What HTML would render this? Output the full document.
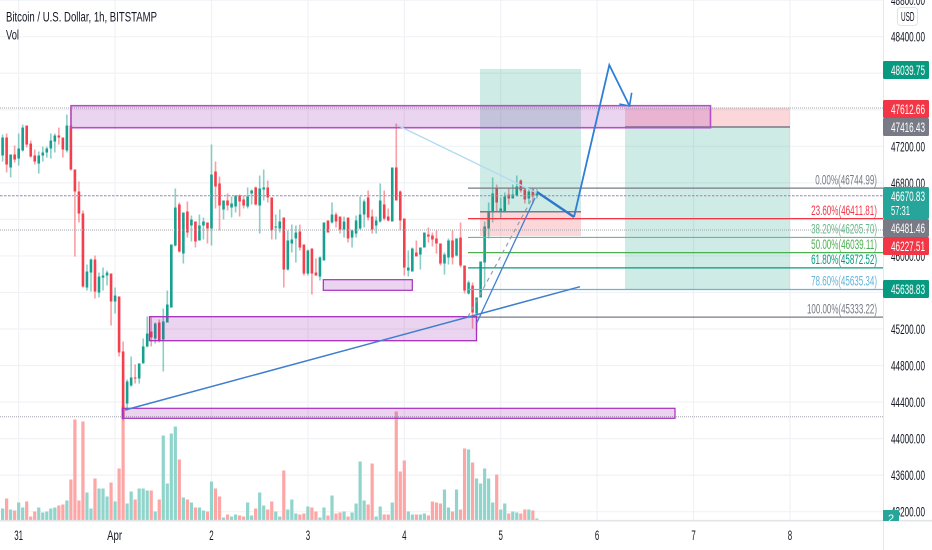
<!DOCTYPE html>
<html>
<head>
<meta charset="utf-8">
<title>Bitcoin / U.S. Dollar chart</title>
<style>
html,body{margin:0;padding:0;background:#fff;width:932px;height:550px;overflow:hidden}
svg{display:block;font-family:"Liberation Sans",sans-serif}
</style>
</head>
<body>
<svg id="chart" xmlns="http://www.w3.org/2000/svg" width="932" height="550" viewBox="0 0 932 550">
  <g id="grid"></g>
  <g id="volumes"></g>
  <g id="candles"></g>

  <g>
    <rect x="480" y="69" width="101" height="143" fill="#089981" fill-opacity="0.2"/>
    <rect x="480" y="212" width="101" height="24" fill="#f23645" fill-opacity="0.2"/>
    <line x1="480" y1="211.7" x2="581" y2="211.7" stroke="#787b86" stroke-width="1.5"/>
  </g>
  <g>
    <rect x="625" y="107.5" width="165" height="19.5" fill="#f23645" fill-opacity="0.2"/>
    <rect x="625" y="127" width="165" height="162" fill="#089981" fill-opacity="0.2"/>
    <line x1="625" y1="127" x2="790" y2="127" stroke="#787b86" stroke-width="1.5"/>
  </g>

  <g id="hlines">
    <line x1="0" y1="108" x2="883" y2="108" stroke="#a3a6ae" stroke-width="1" stroke-dasharray="1 1"/>
    <line x1="0" y1="230" x2="883" y2="230" stroke="#a3a6ae" stroke-width="1" stroke-dasharray="1 1"/>
    <line x1="0" y1="416.7" x2="883" y2="416.7" stroke="#a3a6ae" stroke-width="1" stroke-dasharray="1 1"/>
    <line x1="0" y1="195.7" x2="883" y2="195.7" stroke="#6f92dc" stroke-width="1" stroke-dasharray="2 2"/>
    <line x1="2" y1="195.7" x2="883" y2="195.7" stroke="#f2a8ad" stroke-width="1" stroke-dasharray="1 3"/>
  </g>

  <g id="fib"></g>

  <g>
    <rect x="71" y="105.7" width="639.5" height="22" fill="#9c27b0" fill-opacity="0.2" stroke="#b44fc6" stroke-width="1.6"/>
    <rect x="149.5" y="316.7" width="327" height="24" fill="#9c27b0" fill-opacity="0.2" stroke="#a62fbc" stroke-width="1.3"/>
    <rect x="323.3" y="279.7" width="89" height="10.6" fill="#9c27b0" fill-opacity="0.2" stroke="#a62fbc" stroke-width="1.2"/>
    <rect x="122.3" y="408.3" width="552.7" height="10" fill="#9c27b0" fill-opacity="0.2" stroke="#a62fbc" stroke-width="1.2"/>
  </g>

  <g>
    <line x1="397" y1="125" x2="537" y2="193" stroke="#b3daf3" stroke-width="1.4"/>
    <line x1="468" y1="316.7" x2="538" y2="187.5" stroke="#9a9da6" stroke-width="1.2" stroke-dasharray="4 4"/>
    <line x1="125" y1="410" x2="580" y2="286.7" stroke="#3f7fd0" stroke-width="1.5"/>
    <line x1="476.7" y1="323" x2="535" y2="198" stroke="#3f7fd0" stroke-width="1.3"/>
    <polyline points="537,192 574,217" fill="none" stroke="#2f78c8" stroke-width="2.4"/>
    <polyline points="574,217 609.3,65 629.5,106" fill="none" stroke="#2f7fd4" stroke-width="1.8"/>
    <polyline points="619.3,104 629.5,106 631.7,92.7" fill="none" stroke="#2f7fd4" stroke-width="1.6"/>
  </g>

  <rect x="884" y="0" width="48" height="550" fill="#fff"/>
  <line x1="883.5" y1="0" x2="883.5" y2="550" stroke="#e6e7ea" stroke-width="1"/>
  <rect x="0" y="521.5" width="883" height="29" fill="#fff"/>
  <line x1="0" y1="520.7" x2="932" y2="520.7" stroke="#e3e4e8" stroke-width="1.6"/>
  <g id="priceTicks"></g>
  <g id="timeTicks"></g>

  <g>
    <g>
      <rect x="883" y="61" width="46" height="18" rx="1.5" fill="#089981"/>
      <text x="891" y="75" font-size="14" fill="#fff" textLength="34" lengthAdjust="spacingAndGlyphs">48039.75</text>
    </g>
    <g>
      <rect x="883" y="100" width="46" height="18" rx="1.5" fill="#f23645"/>
      <text x="891" y="114" font-size="14" fill="#fff" textLength="34" lengthAdjust="spacingAndGlyphs">47612.66</text>
    </g>
    <g>
      <rect x="883" y="118" width="46" height="18" rx="1.5" fill="#787b86"/>
      <text x="891" y="132" font-size="14" fill="#fff" textLength="34" lengthAdjust="spacingAndGlyphs">47416.43</text>
    </g>
    <g>
      <rect x="883" y="187" width="46" height="32" rx="1.5" fill="#26a69a"/>
      <text x="891" y="201" font-size="14" fill="#fff" textLength="34" lengthAdjust="spacingAndGlyphs">46670.83</text>
      <text x="891" y="215" font-size="13" fill="#fff" textLength="19" lengthAdjust="spacingAndGlyphs">57:31</text>
    </g>
    <g>
      <rect x="883" y="219" width="46" height="18" rx="1.5" fill="#787b86"/>
      <text x="891" y="233" font-size="14" fill="#fff" textLength="34" lengthAdjust="spacingAndGlyphs">46481.46</text>
    </g>
    <g>
      <rect x="883" y="237" width="46" height="18" rx="1.5" fill="#f23645"/>
      <text x="891" y="251" font-size="14" fill="#fff" textLength="34" lengthAdjust="spacingAndGlyphs">46227.51</text>
    </g>
    <g>
      <rect x="883" y="280" width="46" height="18" rx="1.5" fill="#089981"/>
      <text x="891" y="294" font-size="14" fill="#fff" textLength="34" lengthAdjust="spacingAndGlyphs">45638.83</text>
    </g>
    <g>
      <rect x="883" y="510" width="16" height="11" fill="#26a69a"/>
      <text x="891" y="522" font-size="11" fill="#fff" text-anchor="middle">2</text>
    </g>
  </g>

  <g>
    <rect x="897.5" y="7.5" width="20" height="18" rx="3" fill="#fff" stroke="#e0e3eb"/>
    <text x="901" y="21" font-size="13" fill="#131722" textLength="13.5" lengthAdjust="spacingAndGlyphs">USD</text>
  </g>
  <text x="6" y="21.5" font-size="13.5" fill="#131722" textLength="151" lengthAdjust="spacingAndGlyphs">Bitcoin / U.S. Dollar, 1h, BITSTAMP</text>
  <text x="6" y="39.5" font-size="13.5" fill="#131722" textLength="13" lengthAdjust="spacingAndGlyphs">Vol</text>
</svg>

<script>
// Candle data (USD)
const opens = [47099,47296,46968,47110,47066,47154,47427,47230,47099,47011,47099,47132,47176,47252,47318,47296,47154,47427,46946,46705,46464,45654,45818,45961,45599,45763,45785,45807,45501,45556,44954,44384,44581,44669,44658,44823,45009,45172,45096,45271,45085,45271,45435,46114,46563,46026,46486,46333,46377,46169,46333,46366,46300,46924,46793,46508,46607,46530,46541,46662,46618,46541,46683,46749,46552,46727,46749,46640,46311,46300,46420,45851,46136,46191,46267,46125,45807,46081,45818,45774,45950,46388,46366,46453,46431,46289,46420,46201,46245,46300,46453,46640,46431,46333,46377,46563,46431,46377,46968,46705,46409,45840,45829,46037,46015,46092,46234,46223,46191,46136,45917,45983,46169,46004,46201,45895,45588,45676,45369,45545,45928,46300,46475,46738,46486,46475,46672,46629,46662,46826,46727,46629,46727,46660];
const highs = [47329,47340,47110,47209,47340,47438,47427,47263,47165,47143,47197,47197,47340,47340,47405,47296,47548,47625,46946,46815,46497,45906,45972,46004,45818,45873,45840,45807,45654,45556,45063,44647,44899,44812,44823,45096,45337,45326,45271,45304,45424,45621,46125,46738,46585,46475,46596,46442,46377,46453,46420,46366,47220,47033,46869,46607,46684,46651,46662,46673,46662,46749,46727,46760,46880,46946,46826,46640,46453,46508,46420,46278,46344,46333,46344,46125,46070,46081,45972,45994,46366,46388,46585,46475,46431,46431,46420,46289,46442,46651,46618,46716,46508,46431,46793,46716,46519,46968,47449,46716,46409,46059,46092,46169,46092,46256,46311,46256,46278,46136,46037,46191,46278,46191,46366,45895,45731,45709,45545,45939,46377,46585,46859,46782,46640,46694,46749,46782,46880,46837,46749,46749,46738,46716];
const lows = [47033,46913,46859,47022,46989,47143,47187,47077,47000,46902,47033,47077,47066,47132,47219,47077,47132,46935,45993,46366,45654,45621,45610,45534,45545,45621,45676,45238,45369,44899,44198,44308,44570,44603,44603,44823,44998,45009,45041,45052,44735,45271,45435,46103,46037,45917,46201,46158,46092,46169,46180,46136,46114,46519,46278,46399,46497,46421,46475,46431,46519,46519,46563,46552,46245,46607,46585,46180,46180,46256,45654,45840,46037,45928,46059,45785,45785,45577,45785,45731,45950,46256,46355,46311,46245,46201,46147,46092,46201,46289,46311,46388,46245,46245,46366,46388,46377,46377,46607,46278,45785,45774,45829,45994,45851,46092,46147,46103,46026,45895,45796,45906,45906,45994,45873,45588,45577,45205,45183,45545,45676,46191,46366,46475,46410,46475,46563,46629,46651,46694,46574,46574,46574,46629];
const closes = [47296,47000,47110,47055,47176,47405,47219,47088,47033,47099,47132,47176,47263,47318,47296,47165,47427,46946,46705,46464,45665,45829,45961,45610,45774,45785,45818,45501,45566,44943,44231,44625,44669,44658,44823,45009,45150,45107,45260,45074,45282,45468,46125,46530,46048,46475,46256,46398,46158,46333,46377,46300,46891,46760,46552,46607,46552,46574,46662,46596,46552,46651,46716,46563,46738,46749,46640,46278,46322,46377,45851,46169,46180,46256,46092,45807,46059,45807,45785,45983,46366,46256,46453,46377,46289,46377,46191,46278,46388,46453,46596,46420,46289,46388,46607,46409,46388,46968,46607,46388,45873,45873,46081,45994,46092,46256,46212,46180,46136,45917,46015,46169,45983,46191,45895,45621,45709,45380,45545,45939,46322,46475,46683,46585,46519,46651,46629,46672,46760,46716,46618,46705,46650,46683];
// Volume per candle
const volumes = [120,220,110,100,180,130,190,40,90,130,80,90,120,130,150,160,200,410,1010,200,990,280,120,420,320,320,240,380,190,520,1150,170,290,210,320,320,300,300,90,210,850,370,870,940,610,230,210,180,130,130,100,90,390,320,240,30,60,40,60,50,40,180,50,120,280,150,110,190,90,40,500,110,210,70,60,70,140,130,90,30,130,50,250,70,80,90,40,80,170,590,200,160,570,40,140,60,60,180,1090,490,600,90,60,60,60,70,50,190,180,170,310,130,90,310,110,720,710,580,420,370,520,420,180,460,110,170,70,90,80,70,110,110,100,20];
// Price-axis ticks
const priceTickValues = [48800,48400,48000,47600,47200,46800,46400,46000,45600,45200,44800,44400,44000,43600,43200];
const priceTickLabels = ["48800.00","48400.00","48000.00","47600.00","47200.00","46800.00","46400.00","46000.00","45600.00","45200.00","44800.00","44400.00","44000.00","43600.00","43200.00"];
// Time-axis ticks
const timeTickBars = [4,28,52,76,100,124,148,172,196];
const timeTickLabels = ["31","Apr","2","3","4","5","6","7","8"];
// Fibonacci levels
const fibPercents = ["0.00%","23.60%","38.20%","50.00%","61.80%","78.60%","100.00%"];
const fibPrices = [46744.99,46411.81,46205.70,46039.11,45872.52,45635.34,45333.22];
const fibColors = ["#787b86","#f23645","#66bb8a","#4caf50","#089981","#64b5d9","#787b86"];

const SVGNS = 'http://www.w3.org/2000/svg';
function xAt(i){ return 2.6 + 4.017*i; }
function yAt(p){ return 0.5 + (48796 - p)*0.09135; }
function volH(v){ return v*0.1; }
const VOL_BASE = 520.5;
const GREEN = '#17a08f', RED = '#f43f4c';
function mk(tag, parent){ const e = document.createElementNS(SVGNS, tag); parent.appendChild(e); return e; }
function set(e, o){ for (const k in o) e.setAttribute(k, o[k]); return e; }

const gridG = document.getElementById('grid');
priceTickValues.forEach(function(p){
  const l = mk('line', gridG);
  
  
  set(l, {x1:0, x2:883, y1:yAt(p), y2:yAt(p), stroke:'#f1f2f5', 'stroke-width':1.2});
});
timeTickBars.forEach(function(b){
  const l = mk('line', gridG);
  
  
  set(l, {x1:xAt(b), x2:xAt(b), y1:0, y2:521, stroke:'#f1f2f5', 'stroke-width':1.2});
});

const volG = document.getElementById('volumes');
volumes.forEach(function(v, i){
  const up = closes[i] >= opens[i];
  const r = mk('rect', volG);
  
  
  set(r, {x:xAt(i)-1.6, y:VOL_BASE-volH(v), width:3.2, height:volH(v), fill: up ? '#91d4cc' : '#fda6a6'});
});

const candleG = document.getElementById('candles');
opens.forEach(function(o, i){
  const c = closes[i], up = c >= o, col = up ? GREEN : RED;
  const w = mk('line', candleG);
  
  
  set(w, {x1:xAt(i), x2:xAt(i), y1:yAt(highs[i]), y2:yAt(lows[i]), stroke:col, 'stroke-opacity':0.5, 'stroke-width':1.6});
  const b = mk('rect', candleG);
  
  
  const t = yAt(Math.max(o, c)), h = Math.max(1, yAt(Math.min(o, c)) - t);
  set(b, {x:xAt(i)-1.3, y:t, width:2.6, height:h, fill:col});
});

const fibG = document.getElementById('fib');
fibPrices.forEach(function(p, i){
  const l = mk('line', fibG);
  
  
  set(l, {x1:468, x2:883, y1:yAt(p)+0.3, y2:yAt(p)+0.3, stroke:fibColors[i], 'stroke-width':1.2});
  const t = mk('text', fibG);
  
  
  const s = fibPercents[i] + '(' + p.toFixed(2) + ')';
  set(t, {x:877, y:yAt(p)-3.5, 'text-anchor':'end', 'font-size':14, fill:fibColors[i], textLength:4.12*s.length, lengthAdjust:'spacingAndGlyphs'});
  t.textContent = s;
});

const ptG = document.getElementById('priceTicks');
priceTickValues.forEach(function(p, i){
  const t = mk('text', ptG);
  
  
  set(t, {x:891, y:yAt(p)+5, 'font-size':14, fill:'#131722', textLength:34, lengthAdjust:'spacingAndGlyphs'});
  t.textContent = priceTickLabels[i];
});

const ttG = document.getElementById('timeTicks');
timeTickBars.forEach(function(b, i){
  const t = mk('text', ttG);
  
  
  const s = timeTickLabels[i];
  set(t, {x:xAt(b)-(s.length===3?8:s.length*2.2), y:540, 'font-size':14, fill:'#131722', textLength:s.length===3?15:s.length*4.4, lengthAdjust:'spacingAndGlyphs'});
  t.textContent = s;
});
</script>
</body>
</html>
